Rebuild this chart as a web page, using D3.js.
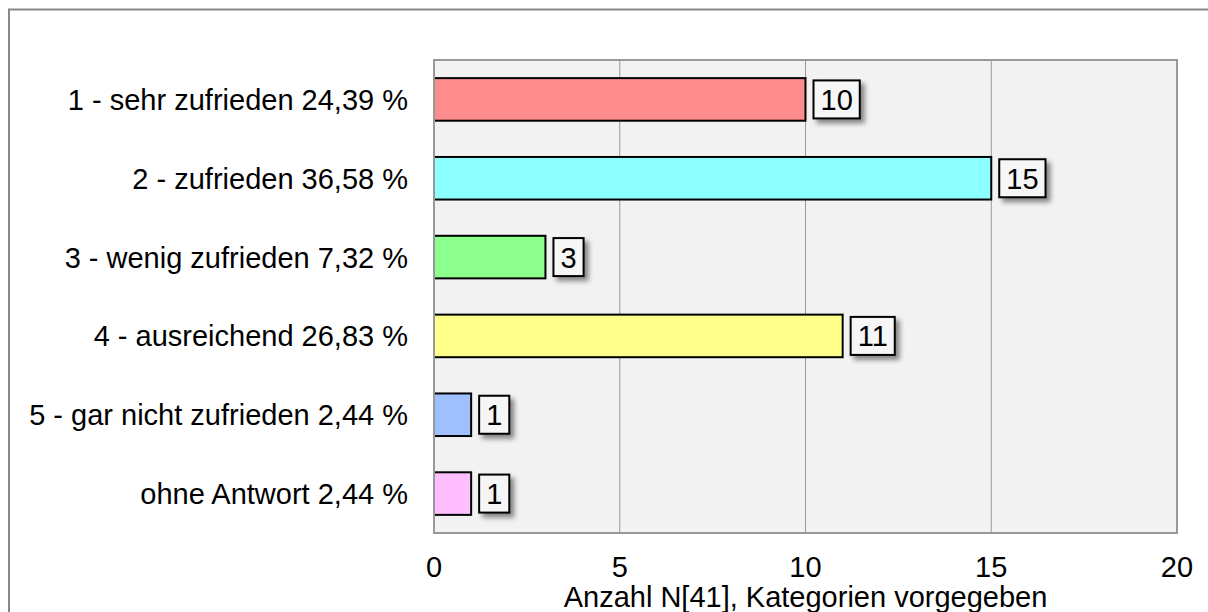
<!DOCTYPE html>
<html>
<head>
<meta charset="utf-8">
<script src="https://cdn.jsdelivr.net/npm/d3@7"></script>
<style>
  body { margin: 0; background: #fff; }
  svg text { font-family: "Liberation Sans", Arial, sans-serif; }
</style>
</head>
<body>
<div id="chart"></div>
<script>
// 数据
const categories = [
    "1 - sehr zufrieden 24,39 %",
    "2 - zufrieden 36,58 %",
    "3 - wenig zufrieden 7,32 %",
    "4 - ausreichend 26,83 %",
    "5 - gar nicht zufrieden 2,44 %",
    "ohne Antwort 2,44 %"
];
const values = [10, 15, 3, 11, 1, 1];
const colors = ["#ff8c8c", "#8cffff", "#8cff8c", "#ffff8c", "#a0bfff", "#ffbfff"];
const xTicks = [0, 5, 10, 15, 20];
const xTitle = "Anzahl N[41], Kategorien vorgegeben";

const width = 1208, height = 612;
const margin = {left: 434, right: 31, top: 60, bottom: 79};
const fontSize = 29;

const svg = d3.select("#chart").append("svg")
    .attr("width", width)
    .attr("height", height);

// 阴影
const defs = svg.append("defs");
const f = defs.append("filter").attr("id", "shadow")
    .attr("x", "-30%").attr("y", "-30%").attr("width", "170%").attr("height", "170%");
f.append("feDropShadow")
    .attr("dx", 4).attr("dy", 4).attr("stdDeviation", 2.5)
    .attr("flood-color", "#000").attr("flood-opacity", 0.45);

// 外框
svg.append("path")
    .attr("d", `M9,${height + 5}V9.5H${width + 5}`)
    .attr("fill", "none")
    .attr("stroke", "#888")
    .attr("stroke-width", 2);

const x = d3.scaleLinear().domain([0, 20]).range([margin.left, width - margin.right]);
const y = d3.scaleBand().domain(categories)
    .range([margin.top, height - margin.bottom])
    .paddingInner(0.46).paddingOuter(0.23);

// 背景
svg.append("rect")
    .attr("x", x(0)).attr("y", margin.top)
    .attr("width", x(20) - x(0)).attr("height", height - margin.bottom - margin.top)
    .attr("fill", "#f2f2f2");

// 网格线
svg.append("g").selectAll("line")
    .data(xTicks.slice(1, -1))
    .join("line")
    .attr("x1", d => x(d)).attr("x2", d => x(d))
    .attr("y1", margin.top).attr("y2", height - margin.bottom)
    .attr("stroke", "#999").attr("stroke-width", 1);

// 条形
svg.append("g").selectAll("rect")
    .data(values)
    .join("rect")
    .attr("x", x(0))
    .attr("y", (d, i) => y(categories[i]))
    .attr("width", d => x(d) - x(0))
    .attr("height", y.bandwidth())
    .attr("fill", (d, i) => colors[i])
    .attr("stroke", "#000")
    .attr("stroke-width", 2);

// 绘图区边框
svg.append("rect")
    .attr("x", x(0)).attr("y", margin.top)
    .attr("width", x(20) - x(0)).attr("height", height - margin.bottom - margin.top)
    .attr("fill", "none")
    .attr("stroke", "#999").attr("stroke-width", 2);

// 数值标签
const lab = svg.append("g").selectAll("g")
    .data(values)
    .join("g")
    .attr("transform", (d, i) => `translate(${x(d) + 8},${y(categories[i]) + y.bandwidth() / 2})`);
const boxes = lab.append("rect")
    .attr("y", -19)
    .attr("height", 38)
    .attr("fill", "#f6f6f6")
    .attr("stroke", "#000")
    .attr("stroke-width", 2)
    .attr("filter", "url(#shadow)");
const labTexts = lab.append("text")
    .attr("y", 0)
    .attr("dy", "0.36em")
    .attr("text-anchor", "middle")
    .attr("font-size", fontSize)
    .text(d => d);
labTexts.each(function() {
    const w = this.getComputedTextLength() + 14;
    d3.select(this).attr("x", w / 2);
    d3.select(this.parentNode).select("rect").attr("width", w);
});

// 类别标签
svg.append("g").selectAll("text")
    .data(categories)
    .join("text")
    .attr("x", 408)
    .attr("y", d => y(d) + y.bandwidth() / 2)
    .attr("dy", "0.36em")
    .attr("text-anchor", "end")
    .attr("font-size", fontSize)
    .attr("fill", "#000")
    .text(d => d);

// X轴刻度
svg.append("g").selectAll("text")
    .data(xTicks)
    .join("text")
    .attr("x", d => x(d))
    .attr("y", 567)
    .attr("dy", "0.36em")
    .attr("text-anchor", "middle")
    .attr("font-size", fontSize)
    .text(d => d);

svg.append("text")
    .attr("x", (x(0) + x(20)) / 2)
    .attr("y", 597)
    .attr("dy", "0.36em")
    .attr("text-anchor", "middle")
    .attr("font-size", fontSize)
    .text(xTitle);
</script>
</body>
</html>
